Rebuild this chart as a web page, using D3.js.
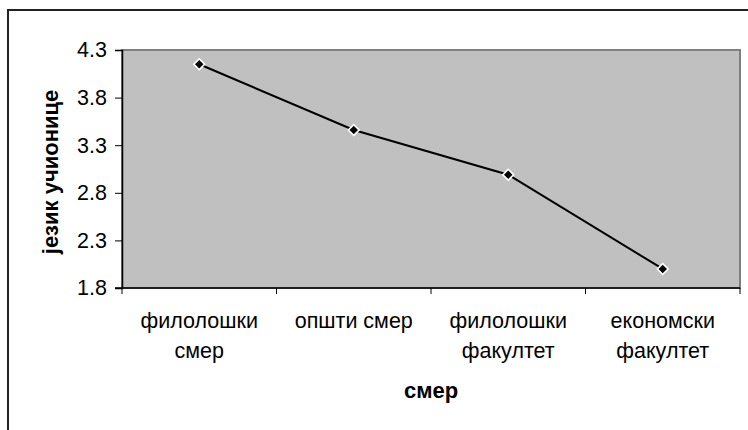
<!DOCTYPE html>
<html>
<head>
<meta charset="utf-8">
<script src="https://cdn.jsdelivr.net/npm/d3@7/dist/d3.min.js"></script>
<style>
  html, body { margin: 0; padding: 0; background: #fff; }
  svg { display: block; font-family: "Liberation Sans", Arial, sans-serif; }
</style>
</head>
<body>
<svg id="chart" width="748" height="430"></svg>
<script>
// Category labels (each entry split into its printed lines)
const categories = ["филолошки смер", "општи смер", "филолошки факултет", "економски факултет"];
const categoryLines = [["филолошки", "смер"], ["општи смер"], ["филолошки", "факултет"], ["економски", "факултет"]];
// Mean score per group
const values = [4.15, 3.46, 2.99, 2.0];
// Value axis ticks
const yTicks = [1.8, 2.3, 2.8, 3.3, 3.8, 4.3];
const yTickLabels = ["1.8", "2.3", "2.8", "3.3", "3.8", "4.3"];
const xTitle = "смер";
const yTitle = "језик учионице";

const svg = d3.select("#chart");
const plot = { left: 122, right: 740, top: 50, bottom: 288 };

const x = d3.scaleBand().domain(categories).range([plot.left, plot.right]).padding(0);
const y = d3.scaleLinear().domain([yTicks[0], yTicks[yTicks.length - 1]]).range([plot.bottom, plot.top]);

// outer chart frame (runs off the right and bottom edges)
svg.append("rect")
  .attr("x", 8).attr("y", 10).attr("width", 760).attr("height", 440)
  .attr("fill", "#fff").attr("stroke", "#222").attr("stroke-width", 2);

// plot area
svg.append("rect")
  .attr("x", plot.left).attr("y", plot.top)
  .attr("width", plot.right - plot.left).attr("height", plot.bottom - plot.top)
  .attr("fill", "#c0c0c0").attr("stroke", "#808080").attr("stroke-width", 2);

// value axis
const yAxis = d3.axisLeft(y).tickValues(yTicks)
  .tickFormat((d, i) => yTickLabels[i]).tickSize(7).tickPadding(8);
const gy = svg.append("g").attr("transform", `translate(${plot.left},0)`).call(yAxis);
gy.select(".domain").attr("stroke", "#000").attr("stroke-width", 1.5);
gy.selectAll(".tick line").attr("stroke", "#000");
gy.selectAll(".tick text").attr("font-size", 21.5).attr("font-family", null).attr("fill", "#000");

// category axis: ticks sit on band boundaries
const boundaries = categories.map(c => x(c)).concat([x.range()[1]]);
const gx = svg.append("g");
gx.append("line")
  .attr("x1", plot.left - 7).attr("x2", plot.right)
  .attr("y1", plot.bottom).attr("y2", plot.bottom)
  .attr("stroke", "#000").attr("stroke-width", 1.5);
gx.selectAll("line.tick").data(boundaries).join("line")
  .attr("class", "tick")
  .attr("x1", d => d).attr("x2", d => d)
  .attr("y1", plot.bottom).attr("y2", plot.bottom + 6)
  .attr("stroke", "#000");

const labels = gx.selectAll("text.cat").data(categories).join("text")
  .attr("class", "cat")
  .attr("text-anchor", "middle")
  .attr("font-size", 21.5)
  .attr("fill", "#000");
labels.each(function (c, i) {
  const t = d3.select(this);
  categoryLines[i].forEach((line, j) => {
    t.append("tspan")
      .attr("x", x(c) + x.bandwidth() / 2)
      .attr("y", 328 + j * 30)
      .text(line);
  });
});

// series line
const line = d3.line()
  .x((d, i) => x(categories[i]) + x.bandwidth() / 2)
  .y(d => y(d));
svg.append("path").datum(values)
  .attr("d", line)
  .attr("fill", "none").attr("stroke", "#000").attr("stroke-width", 2);

// diamond markers
const marker = d3.symbol().type(d3.symbolSquare).size(58);
svg.selectAll("path.marker").data(values).join("path")
  .attr("class", "marker")
  .attr("d", marker)
  .attr("transform", (d, i) => `translate(${x(categories[i]) + x.bandwidth() / 2},${y(d)}) rotate(45)`)
  .attr("fill", "#000").attr("stroke", "#fff").attr("stroke-width", 1.6);

// axis titles
svg.append("text")
  .attr("x", 431).attr("y", 398)
  .attr("text-anchor", "middle").attr("font-size", 22).attr("font-weight", "bold")
  .text(xTitle);
svg.append("text")
  .attr("transform", "translate(58,172) rotate(-90)")
  .attr("text-anchor", "middle").attr("font-size", 22).attr("font-weight", "bold")
  .text(yTitle);
</script>
</body>
</html>
